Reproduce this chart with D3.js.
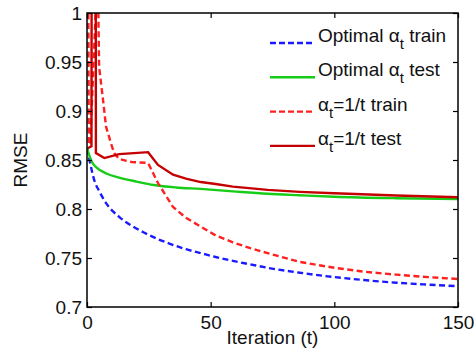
<!DOCTYPE html>
<html>
<head>
<meta charset="utf-8">
<script src="https://cdn.jsdelivr.net/npm/d3@7"></script>
<style>
  html, body { margin: 0; padding: 0; background: #fff; }
  svg { display: block; font-family: "Liberation Sans", Arial, Helvetica, sans-serif; }
</style>
</head>
<body>
<div id="chart"></div>
<script>
// values: [iteration, RMSE]
const optTrain = [[0, 0.862], [1, 0.850], [3, 0.829], [5, 0.818], [8, 0.805], [13, 0.792], [18, 0.783], [23, 0.776], [28, 0.770], [33, 0.765], [40, 0.759], [46, 0.755], [52, 0.751], [59, 0.747], [66, 0.7435], [73, 0.740], [86, 0.735], [100, 0.7305], [112, 0.7275], [125, 0.7248], [138, 0.7228], [150, 0.7212]];
const optTest = [[0, 0.862], [2, 0.848], [4, 0.842], [8, 0.836], [13, 0.832], [20, 0.828], [27, 0.8245], [36, 0.822], [46, 0.8205], [59, 0.818], [73, 0.8155], [86, 0.814], [100, 0.8125], [125, 0.811], [150, 0.8102]];
const invTrain = [[0.2, 1.3], [0.7, 0.866], [1.3, 0.866], [4.3, 1.05], [4.9, 0.945], [6.5, 0.911], [7.7, 0.884], [9.7, 0.867], [11, 0.857], [13, 0.851], [18, 0.848], [24.7, 0.847], [28.7, 0.8265], [34.8, 0.802], [40, 0.791], [46, 0.782], [52, 0.773], [59, 0.766], [66, 0.760], [73, 0.755], [86, 0.746], [100, 0.740], [112, 0.736], [125, 0.733], [138, 0.7305], [150, 0.7286]];
const invTest = [[0.3, 0.862], [1.8, 0.864], [2.0, 1.3], [3.4, 1.3], [3.6, 0.857], [7, 0.852], [13, 0.856], [19, 0.857], [24.7, 0.858], [28.7, 0.845], [34.8, 0.835], [40, 0.831], [46, 0.8275], [52, 0.8255], [59, 0.8228], [73, 0.8195], [86, 0.8175], [100, 0.816], [125, 0.8138], [150, 0.812]];

const xTicks = [0, 50, 100, 150];
const yTicks = [0.7, 0.75, 0.8, 0.85, 0.9, 0.95, 1];

const seriesNames = ['Optimal α|t| train', 'Optimal α|t| test', 'α|t|=1/t train', 'α|t|=1/t test'];
const seriesData = [optTrain, optTest, invTrain, invTest];
const seriesColors = ['#1a1aff', '#17cc17', '#ff2020', '#c40000'];
const seriesDashed = [true, false, true, false];
const seriesSmooth = [true, true, false, false];

const W = 474, H = 351;
const margin = { top: 13, right: 16, bottom: 44, left: 87 };
const w = W - margin.left - margin.right;
const h = H - margin.top - margin.bottom;

const svg = d3.select('#chart').append('svg')
  .attr('width', W)
  .attr('height', H);

const g = svg.append('g')
  .attr('transform', `translate(${margin.left},${margin.top})`);

const x = d3.scaleLinear().domain([0, 150]).range([0, w]);
const y = d3.scaleLinear().domain([0.7, 1]).range([h, 0]);

g.append('clipPath').attr('id', 'clip')
  .append('rect').attr('width', w).attr('height', h);

const lineSharp = d3.line()
  .x(d => x(d[0]))
  .y(d => y(d[1]));
const lineSmooth = d3.line()
  .x(d => x(d[0]))
  .y(d => y(d[1]))
  .curve(d3.curveMonotoneX);

g.append('g').attr('clip-path', 'url(#clip)')
  .selectAll('path')
  .data(seriesData)
  .enter()
  .append('path')
  .attr('d', (d, i) => seriesSmooth[i] ? lineSmooth(d) : lineSharp(d))
  .attr('fill', 'none')
  .attr('stroke', (d, i) => seriesColors[i])
  .attr('stroke-width', 2.4)
  .attr('stroke-dasharray', (d, i) => seriesDashed[i] ? '6,3.5' : null);

// axes, inward ticks on all four sides
const styleAxis = sel => {
  sel.select('.domain').remove();
  sel.selectAll('.tick line').attr('stroke', '#000').attr('stroke-width', 1.2);
  sel.selectAll('.tick text').attr('fill', '#111').attr('font-size', 19);
};

g.append('g')
  .attr('transform', `translate(0,${h})`)
  .call(d3.axisBottom(x).tickValues(xTicks).tickFormat(d3.format('d')).tickSizeInner(-5).tickPadding(9))
  .call(styleAxis);

g.append('g')
  .call(d3.axisLeft(y).tickValues(yTicks).tickFormat(d => d3.format('')(+d.toFixed(2))).tickSizeInner(-5).tickPadding(5))
  .call(styleAxis);

g.append('g')
  .call(d3.axisTop(x).tickValues(xTicks).tickSizeInner(-5).tickFormat(''))
  .call(styleAxis);

g.append('g')
  .attr('transform', `translate(${w},0)`)
  .call(d3.axisRight(y).tickValues(yTicks).tickSizeInner(-5).tickFormat(''))
  .call(styleAxis);

g.append('rect')
  .attr('width', w).attr('height', h)
  .attr('fill', 'none')
  .attr('stroke', '#000')
  .attr('stroke-width', 1.5);

// axis titles
g.append('text')
  .attr('x', w / 2).attr('y', h + 37)
  .attr('text-anchor', 'middle')
  .attr('font-size', 19)
  .attr('fill', '#111')
  .text('Iteration (t)');

g.append('text')
  .attr('transform', `translate(${-60},${h / 2}) rotate(-90)`)
  .attr('text-anchor', 'middle')
  .attr('font-size', 19)
  .attr('fill', '#111')
  .text('RMSE');

// legend (no box)
const legend = g.append('g').attr('transform', `translate(${w - 188},30)`);
const rows = legend.selectAll('g')
  .data(seriesNames)
  .enter()
  .append('g')
  .attr('transform', (d, i) => `translate(0,${i * 34.3})`);

rows.append('line')
  .attr('x1', 0).attr('x2', 45)
  .attr('stroke', (d, i) => seriesColors[i])
  .attr('stroke-width', 2.4)
  .attr('stroke-dasharray', (d, i) => seriesDashed[i] ? '6,3' : null);

rows.append('text')
  .attr('x', 48).attr('y', -1)
  .attr('font-size', 19)
  .attr('fill', '#111')
  .each(function (d) {
    const parts = d.split('|');
    const t = d3.select(this);
    t.append('tspan').text(parts[0]);
    t.append('tspan').attr('dy', 7).attr('font-size', 15).text(parts[1]);
    t.append('tspan').attr('dy', -7).text(parts[2]);
  });
</script>
</body>
</html>
